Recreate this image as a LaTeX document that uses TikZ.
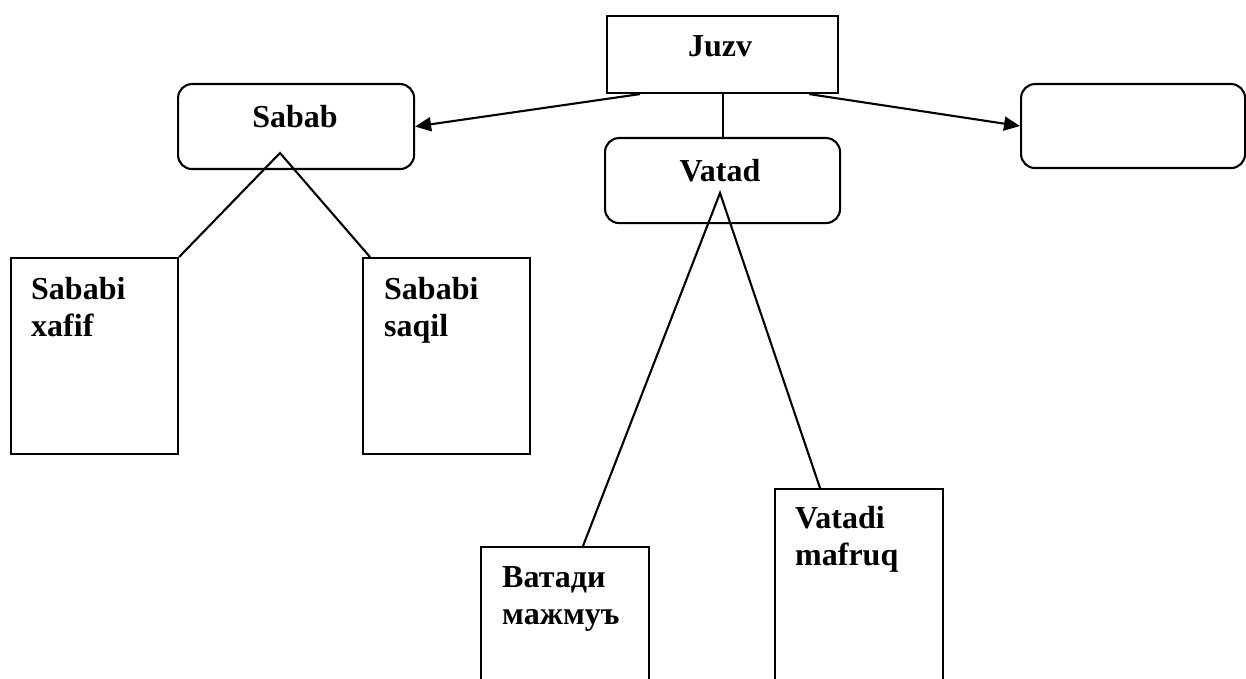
\documentclass[tikz,border=0pt]{standalone}
\usepackage{fontspec}
\setmainfont{Liberation Serif}
\usetikzlibrary{arrows.meta,calc}
\newcommand\firststrut{\rule{0pt}{25pt}}
\begin{document}
\begin{tikzpicture}[x=1pt,y=-1pt,
  ln/.style={line width=2.1pt},
  sq/.style={draw,ln,anchor=north west,inner sep=0pt},
  rd/.style={sq,rounded corners=14pt},
  title/.style={font=\fontsize{32}{38}\selectfont\bfseries,inner sep=0pt,anchor=base},
  body/.style={font=\fontsize{32}{37}\selectfont\bfseries,inner sep=0pt,anchor=north west,align=left},
  arr/.style={ln,-{Triangle[length=16pt,width=14pt]}}]
\useasboundingbox (0,0) rectangle (1246,679);
\clip (0,0) rectangle (1246,679);

% boxes
\node[sq,minimum width=231pt,minimum height=77pt] (juzv) at (606,15) {};
\node[rd,minimum width=236pt,minimum height=85pt] (sabab) at (177,83) {};
\node[rd,minimum width=235pt,minimum height=85pt] (vatad) at (604,137) {};
\node[rd,minimum width=224pt,minimum height=84pt] (empty) at (1020,83) {};
\node[sq,minimum width=167pt,minimum height=196pt] (xafif) at (10,257) {};
\node[sq,minimum width=167pt,minimum height=196pt] (saqil) at (362,257) {};
\node[sq,minimum width=168pt,minimum height=220pt] (majmu) at (480,546) {};
\node[sq,minimum width=168pt,minimum height=260pt] (mafruq) at (774,488) {};

% titles
\node[title] (juzvt) at (720,57) {Juzv};
\node[title] (sababt) at (295,128) {Sabab};
\node[title] (vatadt) at (720,182) {Vatad};

% bodies
\node[body] (xafift) at ($(xafif.north west)+(21,17)$) {\firststrut Sababi\\xafif};
\node[body] (saqilt) at ($(saqil.north west)+(22,17)$) {\firststrut Sababi\\saqil};
\node[body] (majmut) at ($(majmu.north west)+(22,16)$) {\firststrut Ватади\\мажмуъ};
\node[body] (mafruqt) at ($(mafruq.north west)+(21,15)$) {\firststrut Vatadi\\mafruq};

% connectors
\draw[ln] (juzv.south) -- (vatad.north);
\draw[arr] ($(juzv.south west)+(34,0)$) -- (sabab.east);
\draw[arr] ($(juzv.south east)+(-30,0)$) -- (empty.west);
\coordinate (sapex) at (280,153);
\draw[ln] (xafif.north east) -- (sapex) -- ($(saqil.north west)+(8,0)$);
\coordinate (vapex) at (720,193);
\draw[ln] ($(majmu.north west)+(103,0)$) -- (vapex) -- ($(mafruq.north west)+(46,0)$);
\end{tikzpicture}
\end{document}
